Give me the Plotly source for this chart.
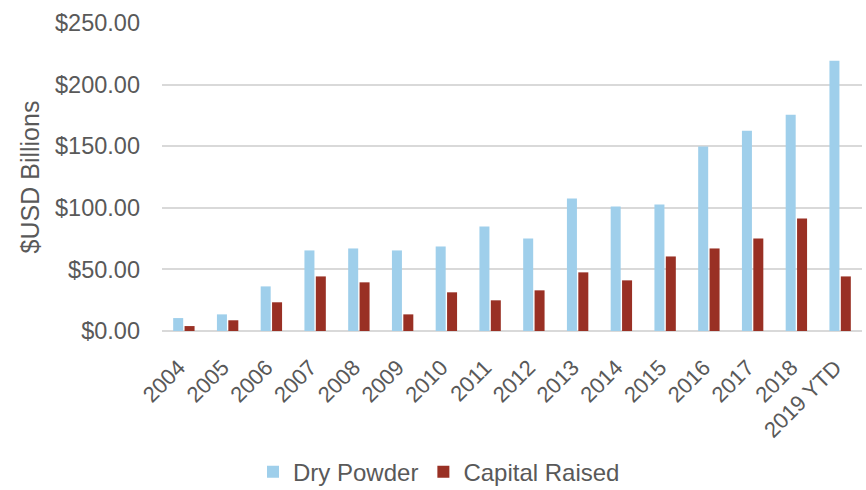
import plotly.graph_objects as go

# Private equity dry powder vs. capital raised, by year ($USD billions)
years = ["2004", "2005", "2006", "2007", "2008", "2009", "2010", "2011",
         "2012", "2013", "2014", "2015", "2016", "2017", "2018", "2019 YTD"]
dry_powder = [10.5, 13.5, 36.2, 65.4, 67.0, 65.4, 68.6, 84.8,
              75.1, 107.5, 101.0, 102.7, 149.7, 162.6, 175.6, 219.3]
capital_raised = [4.0, 8.7, 23.3, 44.3, 39.5, 13.5, 31.4, 24.9,
                  33.0, 47.6, 41.1, 60.5, 67.0, 75.1, 91.3, 44.3]
y_ticks = [0, 50, 100, 150, 200, 250]
y_tick_labels = ["$0.00", "$50.00", "$100.00", "$150.00", "$200.00", "$250.00"]

TEXT = "#595959"
FONT = "Liberation Sans, Arial, sans-serif"

fig = go.Figure()
fig.add_trace(go.Bar(x=years, y=dry_powder, name="Dry Powder",
                     marker=dict(color="#9FCFEB", line=dict(width=0))))
fig.add_trace(go.Bar(x=years, y=capital_raised, name="Capital Raised",
                     marker=dict(color="#993024", line=dict(width=0))))

fig.update_layout(
    width=866, height=490,
    margin=dict(l=162, r=4, t=23, b=159, autoexpand=False),
    paper_bgcolor="white", plot_bgcolor="white",
    barmode="group", bargap=0.48, bargroupgap=0.12,
    font=dict(family=FONT, color=TEXT),
    showlegend=True,
    legend=dict(orientation="h", xanchor="left", yanchor="middle",
                x=0.13, y=-0.458, font=dict(size=24, color=TEXT),
                itemwidth=30, tracegroupgap=0, bgcolor="rgba(0,0,0,0)"),
)

fig.update_xaxes(
    type="category", tickangle=-45, automargin=False,
    tickfont=dict(size=22, color=TEXT),
    showgrid=False, showline=False, zeroline=False,
    ticks="outside", ticklen=14, tickcolor="rgba(0,0,0,0)",
    ticklabelshift=-5,
)

fig.update_yaxes(
    range=[0, 250], tickmode="array", tickvals=y_ticks, ticktext=y_tick_labels,
    tickfont=dict(size=23.5, color=TEXT), automargin=False,
    showgrid=True, gridcolor="#D9D9D9", gridwidth=1.5,
    zeroline=True, zerolinecolor="#D9D9D9", zerolinewidth=1.5,
    showline=False, ticklabelstandoff=21,
    title=dict(text="$USD Billions", font=dict(size=25, color=TEXT), standoff=8),
)

fig.write_html("out.html")
